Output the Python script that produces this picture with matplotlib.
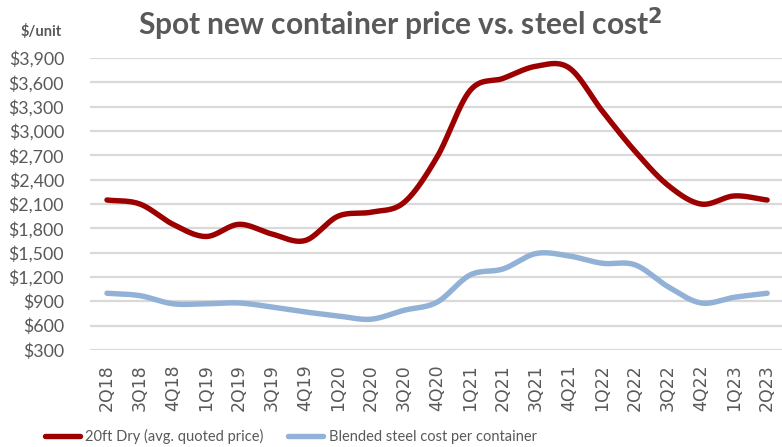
import numpy as np
import matplotlib
matplotlib.use("Agg")
import matplotlib.pyplot as plt

quarters = ["2Q18", "3Q18", "4Q18", "1Q19", "2Q19", "3Q19", "4Q19", "1Q20", "2Q20",
            "3Q20", "4Q20", "1Q21", "2Q21", "3Q21", "4Q21", "1Q22", "2Q22", "3Q22",
            "4Q22", "1Q23", "2Q23"]
dry_price = [2150, 2100, 1850, 1700, 1850, 1730, 1650, 1950, 2000,
             2120, 2680, 3500, 3650, 3800, 3780, 3250, 2750, 2330,
             2100, 2200, 2150]
steel_cost = [1000, 970, 870, 870, 880, 830, 770, 720, 680,
              790, 890, 1225, 1300, 1490, 1460, 1370, 1350, 1080,
              880, 950, 1000]
yticks = list(range(300, 4200, 300))

RED = "#9C0000"
BLUE = "#92B1D6"
GREY = "#595959"


def smooth(y, n=30):
    # catmull-rom through every point, like a spreadsheet "smoothed line"
    y = np.asarray(y, dtype=float)
    pts = np.concatenate([[2 * y[0] - y[1]], y, [2 * y[-1] - y[-2]]])
    xs, ys = [], []
    for i in range(len(y) - 1):
        p0, p1, p2, p3 = pts[i], pts[i + 1], pts[i + 2], pts[i + 3]
        t = np.linspace(0, 1, n, endpoint=False)
        v = 0.5 * ((2 * p1) + (-p0 + p2) * t + (2 * p0 - 5 * p1 + 4 * p2 - p3) * t ** 2
                   + (-p0 + 3 * p1 - 3 * p2 + p3) * t ** 3)
        xs.append(i + t)
        ys.append(v)
    xs.append([len(y) - 1])
    ys.append([y[-1]])
    return np.concatenate(xs), np.concatenate(ys)


plt.rcParams["font.family"] = ["Lato", "DejaVu Sans"]

fig = plt.figure(figsize=(7.82, 4.47), dpi=100)
ax = fig.add_axes([0.1157, 0.217, 0.8843, 0.653])

x = np.arange(len(quarters))
sx, sy = smooth(dry_price)
ax.plot(sx, sy, color=RED, lw=3.9, solid_capstyle="round", label="20ft Dry (avg. quoted price)", zorder=3)
sx, sy = smooth(steel_cost)
ax.plot(sx, sy, color=BLUE, lw=3.9, solid_capstyle="round", label="Blended steel cost per container", zorder=3)

ax.set_ylim(300, 3900)
ax.set_xlim(-0.5, 20.45)
ax.set_yticks(yticks)
ax.set_yticklabels(["${:,}".format(v) for v in yticks], fontsize=12.8, color=GREY)
ax.set_xticks(x)
ax.set_xticklabels(quarters, rotation=90, fontsize=12.5, color=GREY, family="DejaVu Sans")
ax.tick_params(axis="both", length=0)
ax.tick_params(axis="x", pad=10)
ax.tick_params(axis="y", pad=19)
ax.grid(axis="y", color="#D9D9D9", lw=1.6)
ax.set_axisbelow(True)
for s in ax.spines.values():
    s.set_visible(False)

fig.text(0.512, 0.946, "Spot new container price vs. steel cost$^{\\mathbf{2}}$", ha="center", va="center",
         fontsize=21.5, fontweight="bold", color=GREY)
fig.text(0.052, 0.93, "$/unit", ha="center", va="center", fontsize=10.5, fontweight="bold", color=GREY)

fig.legend(loc="center", bbox_to_anchor=(0.372, 0.024), ncol=2, frameon=False,
           prop={"size": 10.5}, handlelength=2.4, handletextpad=0.35, columnspacing=1.7,
           labelcolor=GREY, borderpad=0.2)

fig.savefig("out.png", dpi=100)
